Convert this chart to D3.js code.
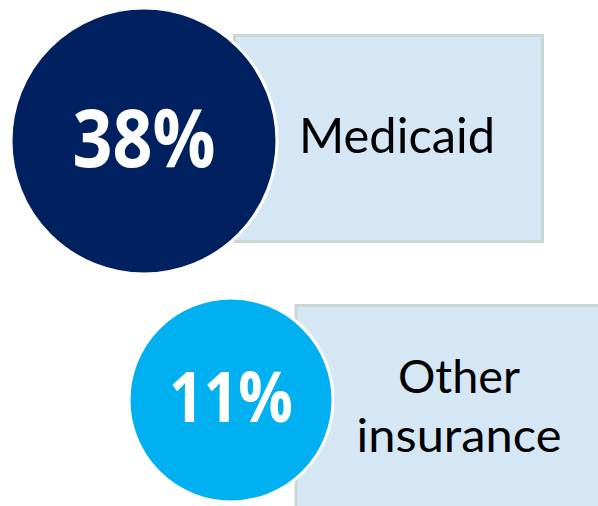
<!DOCTYPE html>
<html>
<head>
<meta charset="utf-8">
<script src="https://cdn.jsdelivr.net/npm/d3@7"></script>
<style>
  body { margin: 0; background: #fff; }
  svg { display: block; }
  text { font-family: Lato, "Open Sans", sans-serif; }
  text.pct { font-family: "Open Sans", Lato, sans-serif; font-weight: 700; }
</style>
</head>
<body>
<svg id="chart" width="598" height="506"></svg>
<script>
// Data
const shares = [38, 11];
const groups = ["Medicaid", "Other insurance"];
const labelLines = [["Medicaid"], ["Other", "insurance"]];
const circleColors = ["#002060", "#00B0F0"];

// Layout for each row (circle centre + box)
const layout = [
  { cx: 144, cy: 141, box: [234.5, 35.5, 308, 206], labelX: 397, baselines: [153], pctBase: 167, pctSize: 80, pctW: 143, labelSize: 49, labelW: [196] },
  { cx: 231, cy: 400, box: [296, 305.5, 330, 240], labelX: 459, baselines: [393, 452], pctBase: 422, pctSize: 69, pctW: 124, labelSize: 46, labelW: [122, 205] }
];

const width = 598;
const height = 506;

// Radius follows the share
const radius = d3.scaleLinear().domain([11, 38]).range([102, 133]);

const svg = d3.select("#chart")
  .attr("width", width)
  .attr("height", height);

const rows = svg.selectAll(".row")
  .data(shares.map((v, i) => ({ value: v, group: groups[i], lines: labelLines[i], color: circleColors[i], pos: layout[i] })))
  .enter()
  .append("g")
    .classed("row", true);

// Light blue label box
rows.append("rect")
  .attr("x", d => d.pos.box[0])
  .attr("y", d => d.pos.box[1])
  .attr("width", d => d.pos.box[2])
  .attr("height", d => d.pos.box[3])
  .attr("fill", "#D5E7F5")
  .attr("stroke", "#CAD9CF")
  .attr("stroke-width", 3);

// Label text, one text element per line
rows.each(function(d) {
  let g = d3.select(this);
  d.lines.forEach((line, j) => {
    g.append("text")
      .attr("x", d.pos.labelX)
      .attr("y", d.pos.baselines[j])
      .attr("text-anchor", "middle")
      .attr("fill", "#000")
      .attr("font-size", d.pos.labelSize)
      .attr("textLength", d.pos.labelW[j])
      .attr("lengthAdjust", "spacingAndGlyphs")
      .text(line);
  });
});

// Circle with the share
rows.append("circle")
  .attr("cx", d => d.pos.cx)
  .attr("cy", d => d.pos.cy)
  .attr("r", d => radius(d.value))
  .attr("fill", d => d.color)
  .attr("stroke", "#fff")
  .attr("stroke-width", 3);

rows.append("text")
  .classed("pct", true)
  .attr("x", d => d.pos.cx)
  .attr("y", d => d.pos.pctBase)
  .attr("text-anchor", "middle")
  .attr("fill", "#fff")
  .attr("font-size", d => d.pos.pctSize)
  .attr("textLength", d => d.pos.pctW)
  .attr("lengthAdjust", "spacingAndGlyphs")
  .text(d => d.value + "%");
</script>
</body>
</html>
